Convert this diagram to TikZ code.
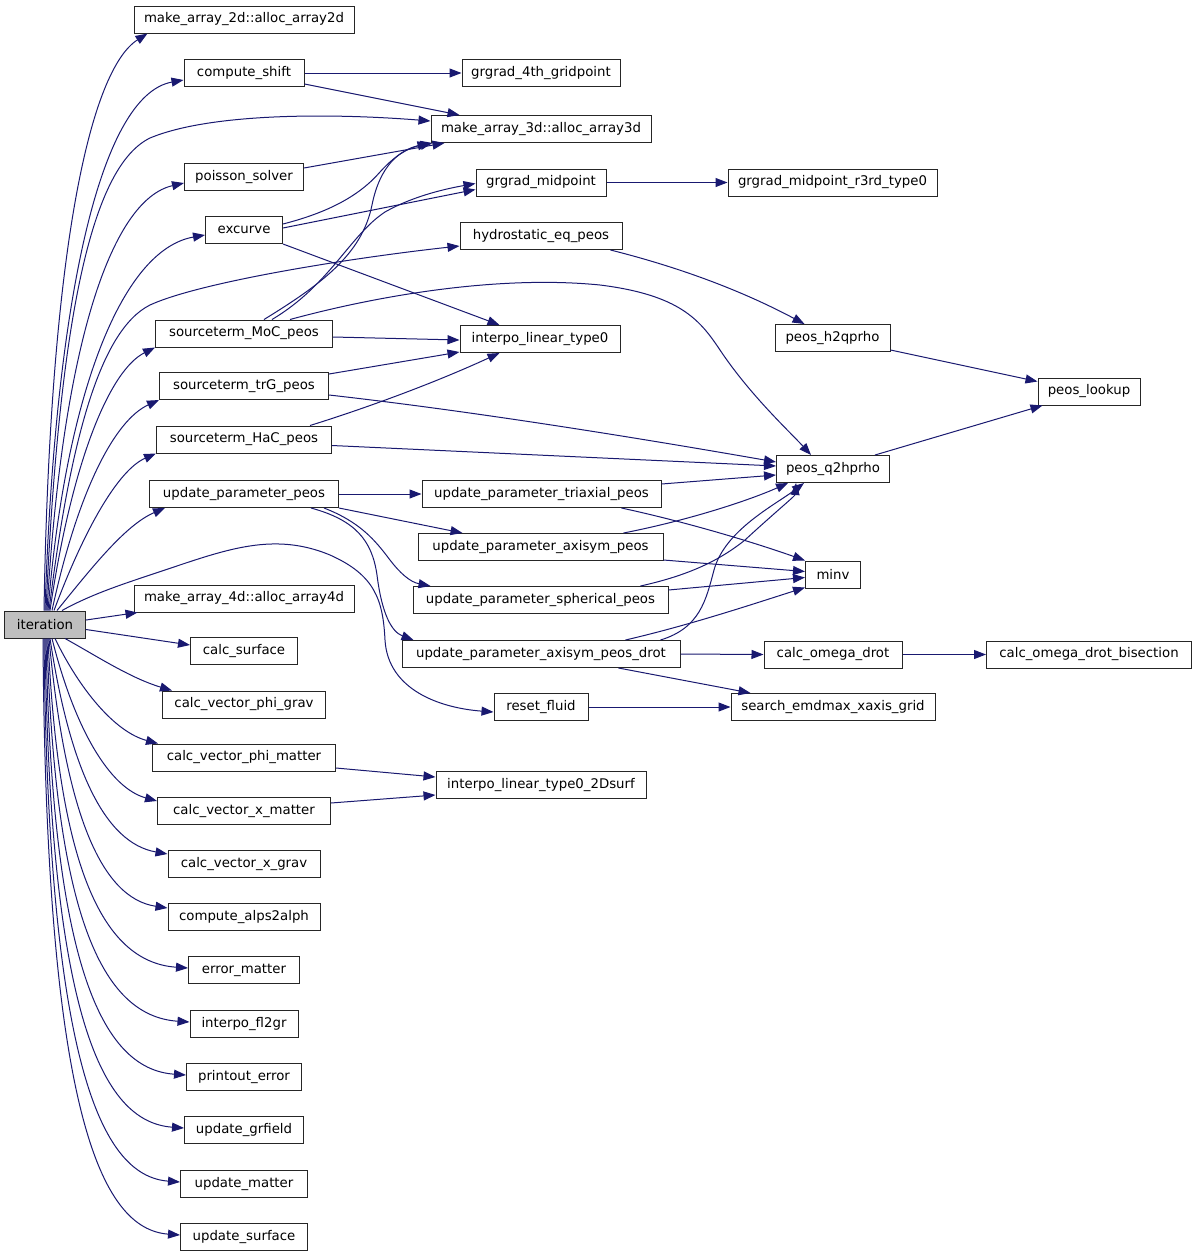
\documentclass[tikz,border=0pt]{standalone}
\usepackage{fontspec}
\setmainfont{DejaVu Sans}
\usetikzlibrary{arrows.meta}
\definecolor{edgecol}{HTML}{191970}
\definecolor{itfill}{HTML}{BFBFBF}
\begin{document}
\begin{tikzpicture}[x=1pt,y=-1pt,
  box/.style={draw=black!85, line width=1pt, fill=white, minimum height=27pt, inner sep=0pt, font=\fontsize{13.3}{15}\selectfont},
  e/.style={draw=edgecol, line width=1pt, -{Triangle[length=12pt,width=9pt]}}]
\useasboundingbox[fill=white] (0,0) rectangle (1197,1259);
% left column
\node[box, fill=itfill, minimum width=81pt] (it) at (45,624.5) {iteration};
\node[box, minimum width=220pt] (m2d) at (244,19.5) {make\_array\_2d::alloc\_array2d};
\node[box, minimum width=120pt] (cshift) at (244,73) {compute\_shift};
\node[box, minimum width=119pt] (poisson) at (244,177) {poisson\_solver};
\node[box, minimum width=77pt] (excurve) at (244,230) {excurve};
\node[box, minimum width=177pt] (moc) at (244,333.5) {sourceterm\_MoC\_peos};
\node[box, minimum width=169pt] (trg) at (244,386) {sourceterm\_trG\_peos};
\node[box, minimum width=175pt] (hac) at (244,439.5) {sourceterm\_HaC\_peos};
\node[box, minimum width=189pt] (upp) at (244,494) {update\_parameter\_peos};
\node[box, minimum width=220pt] (m4d) at (244,598.5) {make\_array\_4d::alloc\_array4d};
\node[box, minimum width=107pt] (csurf) at (244,651) {calc\_surface};
\node[box, minimum width=163pt] (cvpg) at (244,704.5) {calc\_vector\_phi\_grav};
\node[box, minimum width=183pt] (cvpm) at (244,757.5) {calc\_vector\_phi\_matter};
\node[box, minimum width=173pt] (cvxm) at (244,811) {calc\_vector\_x\_matter};
\node[box, minimum width=152pt] (cvxg) at (244,864) {calc\_vector\_x\_grav};
\node[box, minimum width=152pt] (alps) at (244,917) {compute\_alps2alph};
\node[box, minimum width=111pt] (errm) at (244,970) {error\_matter};
\node[box, minimum width=108pt] (fl2gr) at (244,1024) {interpo\_fl2gr};
\node[box, minimum width=115pt] (perr) at (244,1077) {printout\_error};
\node[box, minimum width=119pt] (ugr) at (244,1130) {update\_grfield};
\node[box, minimum width=127pt] (umat) at (244,1184) {update\_matter};
\node[box, minimum width=127pt] (usurf) at (244,1237) {update\_surface};
% middle column
\node[box, minimum width=158pt] (g4th) at (541,73) {grgrad\_4th\_gridpoint};
\node[box, minimum width=220pt] (m3d) at (541,129) {make\_array\_3d::alloc\_array3d};
\node[box, minimum width=130pt] (gmid) at (541,182.5) {grgrad\_midpoint};
\node[box, minimum width=162pt] (hydro) at (541,236) {hydrostatic\_eq\_peos};
\node[box, minimum width=160pt] (ilt0) at (540,339) {interpo\_linear\_type0};
\node[box, minimum width=239pt] (tri) at (541.5,494) {update\_parameter\_triaxial\_peos};
\node[box, minimum width=245pt] (axi) at (540.5,547) {update\_parameter\_axisym\_peos};
\node[box, minimum width=255pt] (sph) at (540.5,600) {update\_parameter\_spherical\_peos};
\node[box, minimum width=278pt] (drot) at (541,654) {update\_parameter\_axisym\_peos\_drot};
\node[box, minimum width=94pt] (reset) at (541,707) {reset\_fluid};
\node[box, minimum width=210pt] (ilt2d) at (541,785) {interpo\_linear\_type0\_2Dsurf};
% third column
\node[box, minimum width=209pt] (gmr3) at (832.5,182.5) {grgrad\_midpoint\_r3rd\_type0};
\node[box, minimum width=115pt] (h2q) at (832.5,338) {peos\_h2qprho};
\node[box, minimum width=113pt] (q2h) at (833,469) {peos\_q2hprho};
\node[box, minimum width=55pt] (minv) at (833,574.5) {minv};
\node[box, minimum width=138pt] (comega) at (833,654.5) {calc\_omega\_drot};
\node[box, minimum width=204pt] (search) at (833,707) {search\_emdmax\_xaxis\_grid};
% fourth column
\node[box, minimum width=102pt] (lookup) at (1089,391.5) {peos\_lookup};
\node[box, minimum width=205pt] (bisect) at (1089,654.5) {calc\_omega\_drot\_bisection};

% edges from iteration (upwards)
\draw[e] ([xshift=-1pt]it.north) .. controls (50,250) and (90,70) .. ([xshift=14pt]m2d.south west);
\draw[e] (it.north) .. controls (55,300) and (100,95) .. ([yshift=-7pt]cshift.west);
\draw[e] ([xshift=1pt]it.north) .. controls (60,300) and (95,165) .. (150,138) .. controls (210,113) and (330,113) .. ([yshift=8pt]m3d.west);
\draw[e] ([xshift=2pt]it.north) .. controls (62,350) and (110,200) .. ([yshift=-6pt]poisson.west);
\draw[e] ([xshift=3pt]it.north) .. controls (65,400) and (120,250) .. ([yshift=-5pt]excurve.west);
\draw[e] ([xshift=4pt]it.north) .. controls (70,440) and (100,330) .. (150,305) .. controls (200,282) and (350,258) .. ([yshift=-10pt]hydro.west);
\draw[e] ([xshift=5pt]it.north) .. controls (72,460) and (110,370) .. (moc.south west);
\draw[e] ([xshift=7pt]it.north) .. controls (78,490) and (115,420) .. (trg.south west);
\draw[e] ([xshift=9pt]it.north) .. controls (84,530) and (118,470) .. (hac.south west);
\draw[e] ([xshift=12pt]it.north) .. controls (90,570) and (125,525) .. ([xshift=16pt]upp.south west);
\draw[e] ([xshift=17pt]it.north) .. controls (90,595) and (120,585) .. (150,575) .. controls (220,552) and (270,530) .. (330,555) .. controls (375,575) and (383,600) .. (385,640) .. controls (388,690) and (440,708) .. ([yshift=-5pt]reset.west);
\draw[e] ([yshift=4.5pt]it.east) -- ([xshift=4pt]m4d.south west);
\draw[e] ([yshift=-5pt]it.east) -- ([yshift=6pt]csurf.west);
% edges from iteration (downwards)
\draw[e] ([xshift=20pt]it.south) .. controls (95,655) and (130,678) .. ([xshift=10pt]cvpg.north west);
\draw[e] ([xshift=10pt]it.south) .. controls (80,690) and (115,732) .. ([xshift=6pt]cvpm.north west);
\draw[e] ([xshift=7pt]it.south) .. controls (75,730) and (110,788) .. ([yshift=-4pt]cvxm.north west);
\draw[e] ([xshift=5pt]it.south) .. controls (70,770) and (105,843) .. ([yshift=-4pt]cvxg.north west);
\draw[e] ([xshift=4pt]it.south) .. controls (65,810) and (100,898) .. ([yshift=-5pt]alps.north west);
\draw[e] ([xshift=3pt]it.south) .. controls (58,860) and (100,962) .. ([yshift=2pt]errm.west);
\draw[e] ([xshift=2pt]it.south) .. controls (55,910) and (100,1016) .. ([yshift=2pt]fl2gr.west);
\draw[e] ([xshift=1pt]it.south) .. controls (52,960) and (100,1069) .. ([yshift=2pt]perr.west);
\draw[e] (it.south) .. controls (50,1010) and (100,1122) .. ([yshift=2pt]ugr.west);
\draw[e] ([xshift=-1pt]it.south) .. controls (48,1060) and (100,1176) .. ([yshift=2pt]umat.west);
\draw[e] ([xshift=-2pt]it.south) .. controls (46,1110) and (100,1229) .. ([yshift=2pt]usurf.west);

% other edges
\draw[e] (cshift.east) -- (g4th.west);
\draw[e] ([yshift=-11pt]cshift.east) -- ([xshift=29pt]m3d.north west);
\draw[e] ([yshift=9pt]poisson.east) -- ([xshift=14pt]m3d.south west);
\draw[e] ([yshift=6pt]excurve.east) .. controls (330,212) and (360,195) .. (380,172) .. controls (398,152) and (412,147) .. ([xshift=2pt]m3d.south west);
\draw[e] ([yshift=2pt]excurve.east) -- ([yshift=-7pt]gmid.west);
\draw[e] (excurve.south east) -- ([xshift=40pt]ilt0.north west);
\draw[e] ([xshift=20pt]moc.north) .. controls (320,285) and (362,255) .. (372,205) .. controls (380,165) and (400,150) .. ([xshift=-1pt]m3d.south west);
\draw[e] ([xshift=28pt]moc.north) .. controls (330,285) and (350,235) .. (385,212) .. controls (415,195) and (450,188) .. ([yshift=-1pt]gmid.west);
\draw[e] ([yshift=-3.5pt]moc.east) -- ([yshift=-1pt]ilt0.west);
\draw[e] ([xshift=46pt]moc.north) .. controls (380,295) and (500,275) .. (600,285) .. controls (680,295) and (700,320) .. (720,350) .. controls (750,395) and (790,432) .. ([xshift=-22pt]q2h.north);
\draw[e] ([yshift=12pt]trg.east) -- ([yshift=1pt]ilt0.south west);
\draw[e] ([yshift=-9pt]trg.east) .. controls (480,412) and (650,440) .. ([yshift=7pt]q2h.west);
\draw[e] ([xshift=66pt]hac.north) .. controls (360,410) and (430,385) .. ([xshift=40pt]ilt0.south west);
\draw[e] ([yshift=-6pt]hac.east) -- ([yshift=3pt]q2h.west);
\draw[e] (gmid.east) -- (gmr3.west);
\draw[e] ([xshift=-12pt]hydro.south east) .. controls (690,270) and (750,295) .. ([xshift=30pt]h2q.north west);
\draw[e] ([yshift=-12pt]h2q.east) -- ([yshift=10pt]lookup.west);
\draw[e] ([xshift=-15pt]q2h.north east) -- ([xshift=5pt]lookup.south west);
\draw[e] (upp.east) -- (tri.west);
\draw[e] (upp.south east) -- ([xshift=45pt]axi.north west);
\draw[e] ([xshift=-15pt]upp.south east) .. controls (360,522) and (375,540) .. (390,560) .. controls (400,573) and (410,582) .. ([xshift=18pt]sph.north west);
\draw[e] ([xshift=-28pt]upp.south east) .. controls (355,520) and (372,540) .. (377,575) .. controls (382,615) and (392,632) .. ([xshift=12pt]drot.north west);
\draw[e] ([yshift=10pt]tri.east) -- ([yshift=-6pt]q2h.west);
\draw[e] ([xshift=-40pt]tri.south east) .. controls (700,525) and (770,548) .. (minv.north west);
\draw[e] ([xshift=-40pt]axi.north east) .. controls (690,520) and (750,500) .. ([xshift=12pt]q2h.south west);
\draw[e] ([yshift=1pt]axi.south east) -- ([yshift=3pt]minv.west);
\draw[e] ([xshift=-28pt]sph.north east) .. controls (690,575) and (720,560) .. (745,540) .. controls (772,515) and (795,496) .. ([xshift=20pt]q2h.south west);
\draw[e] ([yshift=10pt]sph.east) -- ([yshift=-3pt]minv.west);
\draw[e] ([xshift=-20pt]drot.north east) .. controls (700,628) and (706,600) .. (714,570) .. controls (725,530) and (775,505) .. ([xshift=28pt]q2h.south west);
\draw[e] ([xshift=-55pt]drot.north east) .. controls (690,625) and (750,605) .. ([yshift=1pt]minv.south west);
\draw[e] (drot.east) -- (comega.west);
\draw[e] ([xshift=-62pt]drot.south east) -- ([xshift=20pt]search.north west);
\draw[e] (reset.east) -- (search.west);
\draw[e] (comega.east) -- (bisect.west);
\draw[e] ([yshift=-10.5pt]cvpm.east) -- ([yshift=8pt]ilt2d.west);
\draw[e] ([yshift=8pt]cvxm.east) -- ([yshift=-10pt]ilt2d.west);
\end{tikzpicture}
\end{document}
